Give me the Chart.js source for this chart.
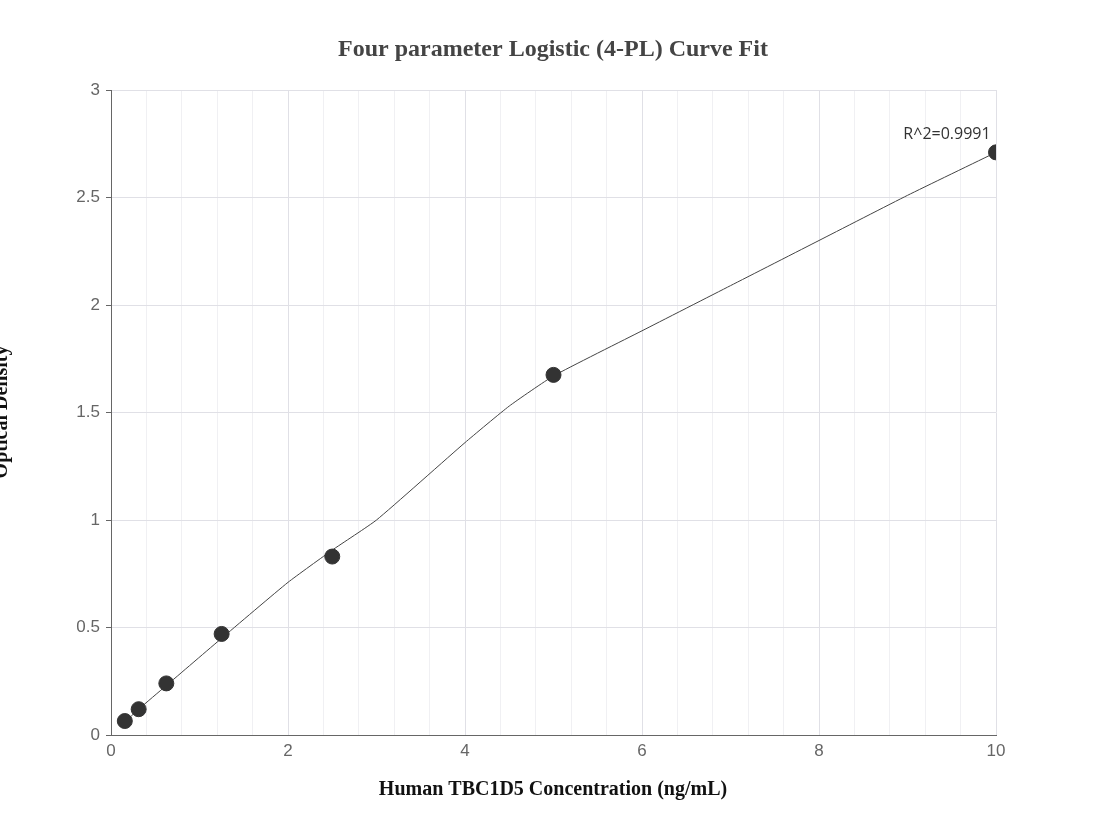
<!DOCTYPE html>
<html><head><meta charset="utf-8">
<script src="https://cdn.jsdelivr.net/npm/chart.js@4/dist/chart.umd.min.js"></script>
<style>body{margin:0;background:#fff}#w{position:absolute;left:0;top:0;width:1107px;height:840px}</style>
</head><body><div id="w"><canvas id="c"></canvas></div>
<script>
const pointX=[0.156,0.3125,0.625,1.25,2.5,5,10];
const pointY=[0.065,0.12,0.24,0.47,0.83,1.675,2.71];
const curveX=[0.156,0.3125,0.625,1.25,2,2.5,3,4,4.5,5,6,7,8,9,10];
const curveY=[0.06,0.12,0.23,0.45,0.71,0.86,1.0,1.36,1.53,1.67,1.88,2.09,2.30,2.51,2.71];
const xTitle='Human TBC1D5 Concentration (ng/mL)';
const yTitle='Optical Density';
const chartTitle='Four parameter Logistic (4-PL) Curve Fit';
const rLabel='R^2=0.9991';
const txt={id:'txt',afterDraw(ch){const c=ch.ctx,x=ch.scales.x,y=ch.scales.y;c.save();
c.font='16px "Open Sans", sans-serif';c.fillStyle='#333';c.textAlign='center';c.textBaseline='alphabetic';
c.fillText(rLabel,x.getPixelForValue(10)-49,y.getPixelForValue(2.71)-13);
c.font='bold 24px "Liberation Serif", serif';c.fillStyle='#444';c.textBaseline='middle';c.fillText(chartTitle,553,50);
c.font='bold 20px "Liberation Serif", serif';c.fillStyle='#111';c.fillText(xTitle,553,790);
c.translate(2,412);c.rotate(-Math.PI/2);c.fillText(yTitle,0,0);c.restore();}};
new Chart(document.getElementById('c'),{type:'scatter',
data:{datasets:[
{data:pointX.map((v,i)=>({x:v,y:pointY[i]})),backgroundColor:'#333',borderColor:'#333',pointRadius:7.5,pointHoverRadius:7.5},
{type:'line',data:curveX.map((v,i)=>({x:v,y:curveY[i]})),borderColor:'#444',borderWidth:1,pointRadius:0,tension:0.15,fill:false}
]},
options:{responsive:true,maintainAspectRatio:false,animation:false,
layout:{padding:{top:90,right:111,left:0,bottom:0}},
plugins:{legend:{display:false},tooltip:{enabled:false}},
scales:{
x:{type:'linear',min:0,max:10,afterFit:s=>{s.height=105;},
ticks:{stepSize:0.4,color:'#666',font:{size:17},autoSkip:false,maxRotation:0,padding:2,
callback:v=>{const r=Math.round(v*10)/10;return (Math.abs(r%2)<1e-6)?String(r):'';}},
afterBuildTicks:s=>{const t=[];for(let i=0;i<=25;i++)t.push({value:i*0.4});s.ticks=t;},
grid:{color:c=>{const v=Math.round(c.tick.value*10)/10;return v%2===0?'#e0e0e6':'#f0f0f3';},tickLength:4,tickColor:'#fff'},
border:{color:'#666'}},
y:{min:0,max:3,afterFit:s=>{s.width=111;},
ticks:{stepSize:0.5,color:'#666',font:{size:17},padding:6,callback:v=>String(v)},
grid:{color:'#e0e0e6',tickLength:5,tickColor:'#666'},border:{color:'#666'}}
}},plugins:[txt]});
</script></body></html>
